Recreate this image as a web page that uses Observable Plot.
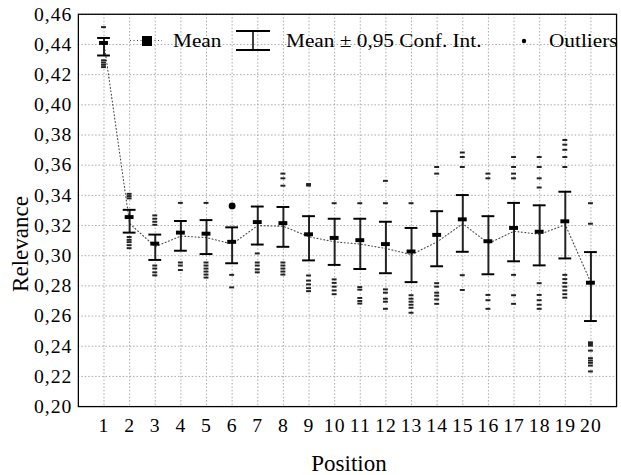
<!DOCTYPE html>
<html>
<head>
<meta charset="utf-8">
<script src="https://cdn.jsdelivr.net/npm/d3@7"></script>
<script src="https://cdn.jsdelivr.net/npm/@observablehq/plot@0.6"></script>
</head>
<body style="margin:0;padding:0;background:#fff;overflow:hidden">
<div id="wrap" style="position:relative;width:621px;height:475px;overflow:hidden;font-family:'Liberation Serif'"></div>
<script>
const positions = [1, 2, 3, 4, 5, 6, 7, 8, 9, 10, 11, 12, 13, 14, 15, 16, 17, 18, 19, 20];
const means  = [0.4410, 0.3256, 0.3080, 0.3153, 0.3146, 0.3092, 0.3223, 0.3216, 0.3142, 0.3118, 0.3103, 0.3077, 0.3028, 0.3138, 0.3241, 0.3096, 0.3184, 0.3159, 0.3228, 0.2821];
const ciLow  = [0.4327, 0.3153, 0.2972, 0.3033, 0.3011, 0.2950, 0.3074, 0.3059, 0.2969, 0.2939, 0.2912, 0.2884, 0.2825, 0.2930, 0.3026, 0.2877, 0.2963, 0.2936, 0.2982, 0.2567];
const ciHigh = [0.4443, 0.3304, 0.3140, 0.3230, 0.3236, 0.3188, 0.3326, 0.3323, 0.3262, 0.3245, 0.3245, 0.3225, 0.3184, 0.3295, 0.3402, 0.3262, 0.3350, 0.3334, 0.3424, 0.3024];
const lineVals = [0.4410, 0.3213, 0.3060, 0.3130, 0.3120, 0.3077, 0.3200, 0.3195, 0.3125, 0.3092, 0.3077, 0.3048, 0.3007, 0.3092, 0.3212, 0.3081, 0.3162, 0.3142, 0.3205, 0.2821];
const outlierVals = [
  [0.4515, 0.4295, 0.4280, 0.4265, 0.4250],
  [0.3410, 0.3395, 0.3380, 0.3124, 0.3105, 0.3090, 0.3070, 0.3050],
  [0.3267, 0.3245, 0.3225, 0.3205, 0.2935, 0.2915, 0.2890, 0.2870],
  [0.3350, 0.2955, 0.2935, 0.2905],
  [0.3350, 0.2955, 0.2935, 0.2915, 0.2895, 0.2875, 0.2855],
  [0.2873, 0.2790],
  [0.3015, 0.2955, 0.2935, 0.2910, 0.2890],
  [0.3544, 0.3513, 0.3464, 0.2955, 0.2935, 0.2915, 0.2895, 0.2875],
  [0.3475, 0.3465, 0.2869, 0.2835, 0.2810, 0.2785, 0.2765],
  [0.3348, 0.2843, 0.2820, 0.2795, 0.2770, 0.2745],
  [0.3348, 0.2792, 0.2775, 0.2720, 0.2700, 0.2683],
  [0.3496, 0.3348, 0.2777, 0.2755, 0.2715, 0.2695, 0.2648],
  [0.3348, 0.2738, 0.2715, 0.2695, 0.2675, 0.2655, 0.2622],
  [0.3588, 0.3544, 0.2818, 0.2795, 0.2755, 0.2735, 0.2710, 0.2681],
  [0.3684, 0.3654, 0.3588, 0.2871, 0.2773],
  [0.3544, 0.3513, 0.2740, 0.2705, 0.2648],
  [0.3654, 0.3588, 0.3544, 0.3513, 0.2873, 0.2738, 0.2681],
  [0.3654, 0.3588, 0.3513, 0.3452, 0.2818, 0.2740, 0.2705, 0.2675, 0.2648],
  [0.3767, 0.3736, 0.3702, 0.3654, 0.3588, 0.2873, 0.2845, 0.2820, 0.2795, 0.2770, 0.2745, 0.2722],
  [0.3348, 0.3212, 0.2426, 0.2415, 0.2404, 0.2371, 0.2321, 0.2305, 0.2290, 0.2272, 0.2233]
];
const bigOutlierPos = [6];
const bigOutlierVals = [0.333];
const yTicks = [0.20, 0.22, 0.24, 0.26, 0.28, 0.30, 0.32, 0.34, 0.36, 0.38, 0.40, 0.42, 0.44, 0.46];
const xLabel = "Position";
const yLabel = "Relevance";
const legendLabels = ["Mean", "Mean \u00b1 0,95 Conf. Int.", "Outliers"];

const stats = positions.map((p, i) => ({pos: p, mean: means[i], lo: ciLow[i], hi: ciHigh[i], line: lineVals[i]}));
const outliers = positions.flatMap((p, i) => outlierVals[i].map(v => ({pos: p, v})));
const bigOutliers = bigOutlierPos.map((p, i) => ({pos: p, v: bigOutlierVals[i]}));

const FONT = "'Liberation Serif'";
const fmt = d => d.toFixed(2).replace(".", ",");
const gridStyle = {stroke: "#a8a8a8", strokeOpacity: 1, strokeDasharray: "1.5,2", strokeWidth: 1};

const chart = Plot.plot({
  width: 630,
  height: 475,
  marginLeft: 79,
  marginRight: 5,
  marginTop: 14,
  marginBottom: 63,
  style: {fontSize: "20px", color: "#000", background: "transparent", overflow: "visible"},
  x: {type: "band", domain: positions, paddingInner: 0, paddingOuter: 0.5, align: 0.5},
  y: {domain: [0.20, 0.46]},
  marks: [
    Plot.gridY(yTicks, gridStyle),
    Plot.gridX(positions, gridStyle),
    Plot.line(stats, {x: "pos", y: "line", stroke: "#444", strokeWidth: 1.1, strokeDasharray: "1,2.5"}),
    Plot.ruleX(stats, {x: "pos", y1: "lo", y2: "hi", stroke: "#222", strokeWidth: 2}),
    Plot.tickY(stats, {x: "pos", y: "lo", stroke: "#000", strokeWidth: 2, insetLeft: 6.5, insetRight: 6.5}),
    Plot.tickY(stats, {x: "pos", y: "hi", stroke: "#000", strokeWidth: 2, insetLeft: 6.5, insetRight: 6.5}),
    Plot.tickY(outliers, {x: "pos", y: "v", stroke: "#222", strokeWidth: 2, insetLeft: 10.5, insetRight: 10.5}),
    Plot.tickY(stats, {x: "pos", y: "mean", stroke: "#000", strokeWidth: 4, insetLeft: 8.5, insetRight: 8.5}),
    Plot.dot(bigOutliers, {x: "pos", y: "v", r: 3.5, fill: "#000", stroke: "none"}),
    Plot.frame({stroke: "#000", strokeWidth: 1.3}),
    Plot.axisY({ticks: yTicks, tickFormat: fmt, tickSize: 0, tickPadding: 6, fontSize: 20, label: null}),
    Plot.axisX({tickSize: 0, tickPadding: 12, fontSize: 20, label: null})
  ]
});

chart.style.fontFamily = FONT;
chart.style.position = "absolute";
chart.style.left = "0px";
chart.style.top = "0px";
chart.querySelectorAll("text").forEach(t => { t.style.fontFamily = FONT; t.style.letterSpacing = "1px"; });

const wrap = document.getElementById("wrap");
wrap.appendChild(chart);

function addDiv(text, css) {
  const d = document.createElement("div");
  d.textContent = text;
  d.setAttribute("style", "position:absolute;white-space:nowrap;color:#000;line-height:1;font-family:" + FONT + ";" + css);
  wrap.appendChild(d);
}
function addSym(svg, css) {
  const s = document.createElement("div");
  s.setAttribute("style", "position:absolute;line-height:0;" + css);
  s.innerHTML = svg;
  wrap.appendChild(s);
}
addDiv(yLabel, "left:20px;top:244px;font-size:23px;transform:translate(-50%,-50%) rotate(-90deg)");
addDiv(xLabel, "left:349px;top:463px;font-size:23px;transform:translate(-50%,-50%)");
const lblCss = "top:31px;font-size:19px;transform-origin:left center;transform:scaleX(1.12);";
addSym(`<svg width="36" height="18"><line x1="2" y1="8.5" x2="34" y2="8.5" stroke="#444" stroke-width="1.1" stroke-dasharray="1,2.5"/><rect x="14" y="4" width="10" height="10" fill="#000"/></svg>`, "left:128px;top:32px");
addDiv(legendLabels[0], lblCss + "left:173px");
addSym(`<svg width="38" height="26"><line x1="2" y1="3" x2="36" y2="3" stroke="#000" stroke-width="2"/><line x1="2" y1="22" x2="36" y2="22" stroke="#000" stroke-width="2"/><line x1="19" y1="3" x2="19" y2="22" stroke="#000" stroke-width="1.5"/></svg>`, "left:234px;top:28px");
addDiv(legendLabels[1], lblCss + "left:286px");
addSym(`<svg width="10" height="10"><circle cx="5" cy="5" r="2.2" fill="#000"/></svg>`, "left:519px;top:36px");
addDiv(legendLabels[2], lblCss + "left:549px");
</script>
</body>
</html>
